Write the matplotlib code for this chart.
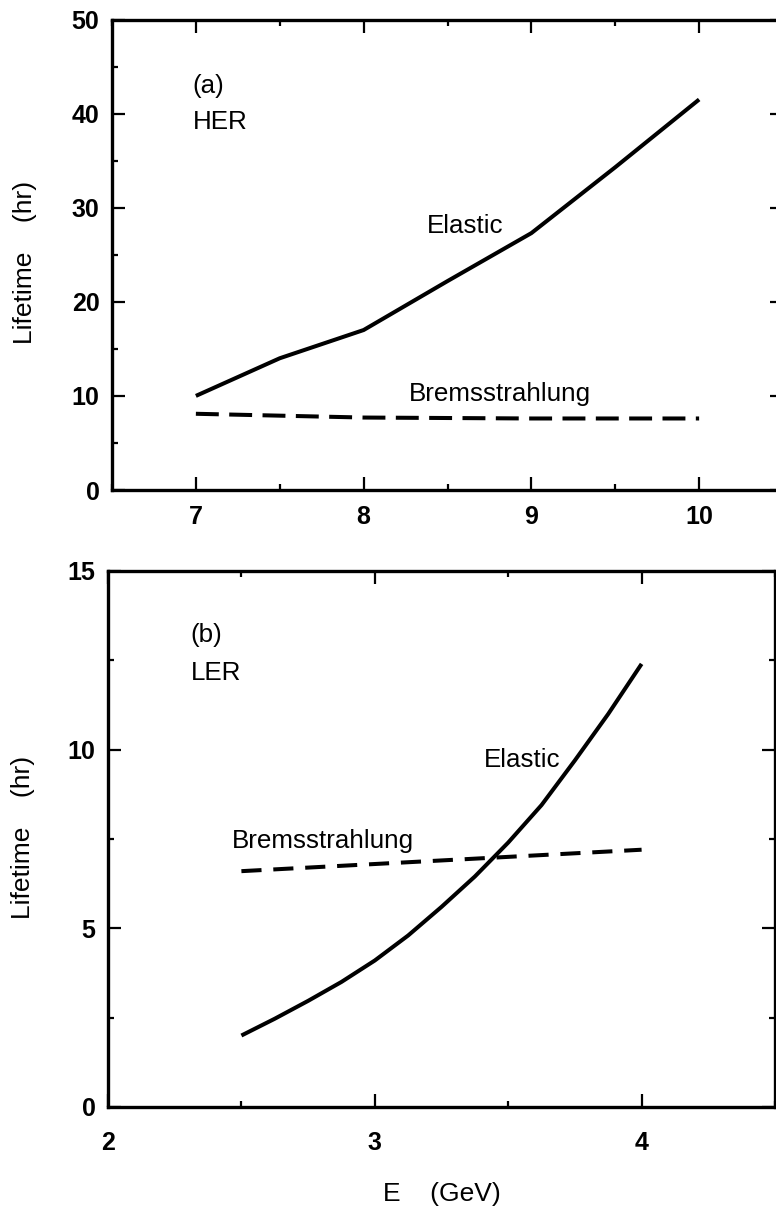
import matplotlib
matplotlib.use("Agg")
import matplotlib.pyplot as plt
from matplotlib.ticker import MultipleLocator, FixedLocator

plt.rcParams['font.family'] = ['Liberation Sans', 'DejaVu Sans']
plt.rcParams['lines.scale_dashes'] = False

# (a) HER
her_energy = [7.0, 7.5, 8.0, 8.5, 9.0, 9.5, 10.0]
her_elastic = [10.0, 14.0, 17.0, 22.2, 27.3, 34.3, 41.5]
her_brems_energy = [7.0, 8.0, 9.0, 10.0]
her_brems = [8.1, 7.7, 7.6, 7.6]

# (b) LER
ler_energy = [2.5, 2.625, 2.75, 2.875, 3.0, 3.125, 3.25, 3.375, 3.5,
              3.625, 3.75, 3.875, 4.0]
ler_elastic = [2.0, 2.47, 2.97, 3.5, 4.1, 4.8, 5.6, 6.45, 7.4,
               8.45, 9.7, 11.0, 12.4]
ler_brems_energy = [2.5, 3.0, 3.5, 4.0]
ler_brems = [6.6, 6.8, 7.0, 7.2]

her_xticks = [7, 8, 9, 10]
her_yticks = [0, 10, 20, 30, 40, 50]
ler_xticks = [2, 3, 4]
ler_yticks = [0, 5, 10, 15]

W, H = 776, 1206
fig = plt.figure(figsize=(W / 100, H / 100), dpi=100)


def px_axes(left, top, right, bottom):
    return [left / W, 1 - bottom / H, (right - left) / W, (bottom - top) / H]


ax1 = fig.add_axes(px_axes(112, 19.5, 783, 490))
ax2 = fig.add_axes(px_axes(108, 571, 775, 1107))

line_kw = dict(color='black', lw=2.9, solid_capstyle='butt',
               solid_joinstyle='round')

ax1.plot(her_energy, her_elastic, **line_kw)
ax1.plot(her_brems_energy, her_brems, ls=(0, (16.5, 7.5)), **line_kw)
ax2.plot(ler_energy, ler_elastic, **line_kw)
ax2.plot(ler_brems_energy, ler_brems, ls=(0, (14.5, 8.5)), **line_kw)

ax1.set_xlim(6.5, 10.5)
ax1.set_ylim(0, 50)
ax2.set_xlim(2, 4.5)
ax2.set_ylim(0, 15)

ax1.xaxis.set_major_locator(FixedLocator(her_xticks))
ax1.xaxis.set_minor_locator(MultipleLocator(0.5))
ax1.yaxis.set_major_locator(FixedLocator(her_yticks))
ax1.yaxis.set_minor_locator(MultipleLocator(5))
ax2.xaxis.set_major_locator(FixedLocator(ler_xticks))
ax2.xaxis.set_minor_locator(MultipleLocator(0.5))
ax2.yaxis.set_major_locator(FixedLocator(ler_yticks))
ax2.yaxis.set_minor_locator(MultipleLocator(2.5))

for ax in (ax1, ax2):
    for sp in ax.spines.values():
        sp.set_linewidth(2.4)
    ax.tick_params(which='both', direction='in', top=True, right=True,
                   width=1.6, colors='black')
    ax.tick_params(which='major', length=9.5)
    ax.tick_params(which='minor', length=4.5)
    ax.tick_params(axis='y', which='major', pad=9, labelsize=18)

ax1.tick_params(axis='x', which='major', pad=11, labelsize=18)
ax2.tick_params(axis='x', which='major', pad=17, labelsize=18)
for ax in (ax1, ax2):
    for lab in ax.get_xticklabels() + ax.get_yticklabels():
        lab.set_fontweight('bold')

txt = dict(fontsize=18.7, color='black', ha='left', va='baseline')
ax1.text(6.98, 42.2, '(a)', **txt)
ax1.text(6.98, 38.4, 'HER', **txt)
ax1.text(8.38, 27.3, 'Elastic', **txt)
ax1.text(8.27, 9.46, 'Bremsstrahlung', **txt)

ax2.text(2.31, 13.0, '(b)', **txt)
ax2.text(2.31, 11.95, 'LER', **txt)
ax2.text(3.41, 9.52, 'Elastic', **txt)
ax2.text(2.465, 7.25, 'Bremsstrahlung', **txt)

lab_kw = dict(fontsize=19, color='black', rotation=90, ha='center', va='center')
fig.text(25 / W, 1 - 262 / H, 'Lifetime    (hr)', **lab_kw)
fig.text(23 / W, 1 - 837 / H, 'Lifetime    (hr)', **lab_kw)
fig.text(383 / W, 1 - 1201 / H, 'E    (GeV)', fontsize=19, color='black',
         ha='left', va='baseline')

fig.savefig('out.png', dpi=100)
